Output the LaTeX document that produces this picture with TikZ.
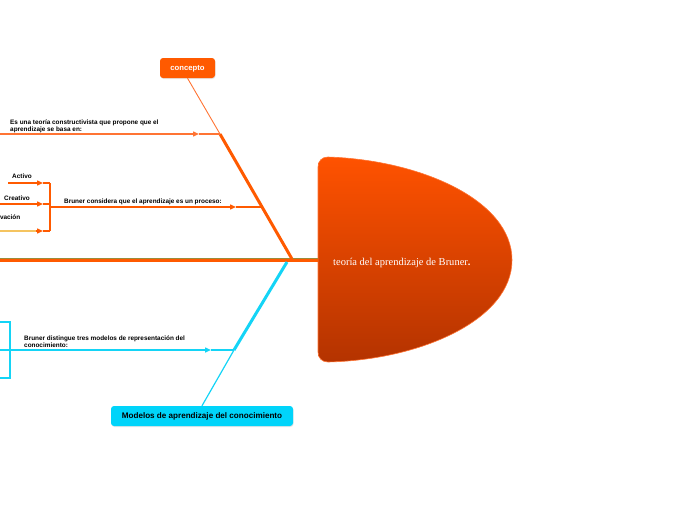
\documentclass[tikz,border=0pt]{standalone}
\usepackage{fontspec}
\setmainfont{Liberation Serif}
\setsansfont{Liberation Sans}
\usetikzlibrary{arrows.meta,shadows}
\definecolor{org}{HTML}{FF5A00}
\definecolor{lorg}{HTML}{FF7434}
\definecolor{cy}{HTML}{14D4F6}
\definecolor{cybox}{HTML}{00D4FA}
\definecolor{yel}{HTML}{F5C460}
\definecolor{olive}{HTML}{9A8C3C}
\definecolor{btop}{HTML}{FF5200}
\definecolor{bbot}{HTML}{B43300}
\begin{document}
\begin{tikzpicture}[x=1pt,y=-1pt,
  lbl/.style={font=\sffamily\bfseries\fontsize{6.4}{7.2}\selectfont, anchor=north west, inner sep=0pt, align=left, text=black},
  arr/.style={-{Triangle[length=6pt,width=5pt]}},
  obr/.style={draw=org, line width=1.4pt},
  cbr/.style={draw=cy, line width=1.4pt},
  boxo/.style={rounded corners=3pt, fill=org, text=white, minimum height=20pt, inner sep=0pt,
     text height=4.2pt, text depth=0pt,
     font=\sffamily\bfseries\fontsize{7.7}{8}\selectfont, drop shadow={opacity=0.2, shadow xshift=0.5pt, shadow yshift=-1pt}},
  boxc/.style={rounded corners=3pt, fill=cybox, text=black, minimum height=20pt, inner sep=0pt,
     text height=4.2pt, text depth=0pt,
     font=\sffamily\bfseries\fontsize{8.1}{8}\selectfont, drop shadow={opacity=0.2, shadow xshift=0.5pt, shadow yshift=-1pt}}
]
\useasboundingbox (0,0) rectangle (696,520);
\clip (0,0) rectangle (696,520);

% central blob
\path[top color=btop, bottom color=bbot, draw=lorg, line width=0.6pt]
  (328,157) .. controls (420,160) and (512,200) .. (512,260)
  .. controls (512,320) and (420,360) .. (328,362)
  .. controls (322,362) and (318,358) .. (318,352) -- (318,167)
  .. controls (318,161) and (322,157) .. (328,157) -- cycle;
\node[anchor=base west, inner sep=0pt, text=white, font=\fontsize{10.5}{12}\selectfont] (main) at (333,265) {teoría del aprendizaje de Bruner\textbf{.}};

% coordinates
\coordinate (S0) at (0,260);
\coordinate (SE) at (318,260);
\coordinate (S1) at (292,259);
\coordinate (S2) at (287,262);
\coordinate (J1) at (220,134);
\coordinate (J2) at (261.5,207);
\coordinate (J3) at (234,350);

% spine
\draw[org, line width=4pt] (S0) -- (SE);
\draw[olive, line width=0.8pt] (0,258) -- (318,258);

% boxes
\node[boxo, minimum width=55pt] (concepto) at (187.5,68) {concepto};
\node[boxc, minimum width=182pt] (modelos) at (202,416) {Modelos de aprendizaje del conocimiento};

% upper orange bone
\draw[lorg, line width=0.9pt] (concepto.south) -- (J1);
\draw[org, line width=3pt] (J1) -- (S1);

% branch 1
\coordinate (B1a) at (0,134);
\coordinate (B1m) at (199,134);
\draw[lorg, line width=1.4pt, arr] (B1a) -- (B1m);
\draw[lorg, line width=1.4pt] (B1m) -- (J1);
\node[lbl] (t1) at (10,119.5) {Es una teoría constructivista que propone que el\\aprendizaje se basa en:};

% branch 2
\coordinate (B2) at (50,207);
\coordinate (B2m) at (236,207);
\draw[obr, arr] (B2) -- (B2m);
\draw[obr] (B2m) -- (J2);
\node[lbl] (t2) at (64,198.5) {Bruner considera que el aprendizaje es un proceso:};
\coordinate (Bt) at (50,183);
\coordinate (Bb) at (50,231);
\draw[obr] (Bt) -- (Bb);
% sub-branches
\coordinate (a0) at (8,183);   \coordinate (am) at (43,183);
\coordinate (c0) at (0,204);   \coordinate (cm) at (43,204);  \coordinate (cb) at (50,204);
\coordinate (i0) at (0,231);   \coordinate (iy) at (36,231);  \coordinate (im) at (43,231);
\draw[obr, arr] (a0) -- (am); \draw[obr] (am) -- (Bt);
\draw[obr, arr] (c0) -- (cm); \draw[obr] (cm) -- (cb);
\draw[yel, line width=1.4pt] (i0) -- (iy);
\draw[obr, arr] (iy) -- (im); \draw[obr] (im) -- (Bb);
\node[lbl] (ta) at (12,174) {Activo};
\node[lbl] (tc) at (4,196) {Creativo};
\node[lbl, anchor=north east] (ti) at (20.5,215) {vación};

% lower cyan bone
\draw[cy, line width=3pt] (S2) -- (J3);
\draw[cy, line width=1.2pt] (J3) -- (modelos.north);

% branch 3
\coordinate (B3a) at (0,350);
\coordinate (B3m) at (211,350);
\draw[cbr, arr] (B3a) -- (B3m);
\draw[cbr] (B3m) -- (J3);
\coordinate (Ct) at (10,322);
\coordinate (Cb) at (10,378);
\draw[cbr] (0,322) -- (Ct) -- (Cb) -- (0,378);
\node[lbl] (t3) at (24,335.5) {Bruner distingue tres modelos de representación del\\conocimiento:};
\end{tikzpicture}
\end{document}
